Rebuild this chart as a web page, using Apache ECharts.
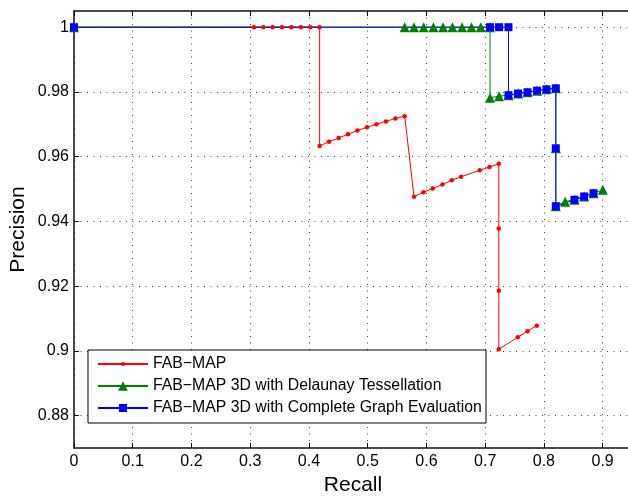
<!DOCTYPE html>
<html>
<head>
<meta charset="utf-8">
<script src="https://cdn.jsdelivr.net/npm/echarts@6/dist/echarts.min.js"></script>
<style>
html,body{margin:0;padding:0;background:#fff;}
#chart{width:628px;height:496px;}
</style>
</head>
<body>
<div id="chart"></div>
<script>
// ---- data ----
var seriesNames = ['FAB\u2212MAP', 'FAB\u2212MAP 3D with Delaunay Tessellation', 'FAB\u2212MAP 3D with Complete Graph Evaluation'];

var redRecall = [0, 0.3063, 0.3223, 0.3382, 0.354, 0.37, 0.3864, 0.4024, 0.4182,
  0.4182, 0.4341, 0.4506, 0.4664, 0.4825, 0.4988, 0.5148, 0.5312, 0.5472, 0.563,
  0.5789, 0.5949, 0.6107, 0.6273, 0.6431, 0.659, 0.6908, 0.7073, 0.7232,
  0.7232, 0.7232, 0.7232, 0.7555, 0.7721, 0.7879];
var redPrecision = [1, 1, 1, 1, 1, 1, 1, 1, 1,
  0.9633, 0.9646, 0.9658, 0.9669, 0.9681, 0.9691, 0.97, 0.9709, 0.9718, 0.9725,
  0.9476, 0.949, 0.9502, 0.9514, 0.9527, 0.9538, 0.9558, 0.9568, 0.9578,
  0.9378, 0.9186, 0.9005, 0.9042, 0.9061, 0.9078];

var greenRecall = [0, 0.563, 0.5789, 0.5954, 0.6119, 0.6283, 0.6443, 0.6607, 0.6767, 0.6925,
  0.7083, 0.7083, 0.7237, 0.7397, 0.756, 0.7721, 0.7884, 0.8044, 0.8203,
  0.8203, 0.8203, 0.8361, 0.8521, 0.8685, 0.8845, 0.9003];
var greenPrecision = [1, 1, 1, 1, 1, 1, 1, 1, 1, 1,
  1, 0.9782, 0.9787, 0.979, 0.9795, 0.9799, 0.9804, 0.9808, 0.9811,
  0.9626, 0.9447, 0.9461, 0.9467, 0.9477, 0.9487, 0.9498];

var blueRecall = [0, 0.7083, 0.7237, 0.7397, 0.7397, 0.756, 0.7721, 0.7884, 0.8044, 0.8203,
  0.8203, 0.8203, 0.8521, 0.8685, 0.8845];
var bluePrecision = [1, 1, 1, 1, 0.979, 0.9795, 0.9799, 0.9804, 0.9808, 0.9811,
  0.9626, 0.9447, 0.9467, 0.9477, 0.9487];

var xTicks = [0, 0.1, 0.2, 0.3, 0.4, 0.5, 0.6, 0.7, 0.8, 0.9];
var yTicks = [0.88, 0.9, 0.92, 0.94, 0.96, 0.98, 1];

// ---- chart ----
function zip(a, b) { return a.map(function (v, i) { return [v, b[i]]; }); }
var FONT = 'Liberation Sans';
var chart = echarts.init(document.getElementById('chart'), null, {renderer: 'canvas'});

var tickStyle = {show: true, inside: true, length: 5, lineStyle: {color: '#000', width: 1}};
var axisLineStyle = {show: true, onZero: false, lineStyle: {color: '#111', width: 1.5}};
var gridLine = {show: true, lineStyle: {color: '#444', width: 1, type: [1, 5.5]}};

function xAxisCfg(pos, showLab) {
  return {
    type: 'value', position: pos, min: 0, max: 0.95,
    axisLine: axisLineStyle,
    axisTick: Object.assign({customValues: xTicks}, tickStyle),
    axisLabel: {show: showLab, customValues: xTicks, color: '#000', fontFamily: FONT, fontSize: 16, margin: 6},
    splitLine: showLab ? gridLine : {show: false},
    name: showLab ? 'Recall' : '', nameLocation: 'middle', nameGap: 25,
    nameTextStyle: {color: '#000', fontFamily: FONT, fontSize: 21}
  };
}
function yAxisCfg(pos, showLab) {
  return {
    type: 'value', position: pos, min: 0.87, max: 1.005,
    axisLine: showLab ? axisLineStyle : {show: false},
    axisTick: showLab ? Object.assign({customValues: yTicks}, tickStyle) : {show: false},
    axisLabel: {show: showLab, customValues: yTicks, color: '#000', fontFamily: FONT, fontSize: 16, margin: 5},
    splitLine: showLab ? gridLine : {show: false},
    name: showLab ? 'Precision' : '', nameLocation: 'middle', nameGap: 45, nameMoveOverlap: false,
    nameTextStyle: {color: '#000', fontFamily: FONT, fontSize: 21}
  };
}

function legendCfg(name, top, ih) {
  return {
    data: [name], left: 97, top: top, orient: 'vertical', padding: 0,
    itemWidth: 50, itemHeight: ih, itemGap: 0, z: 10,
    textStyle: {color: '#000', fontFamily: FONT, fontSize: 15.8},
    selectedMode: false
  };
}

chart.setOption({
  animation: false,
  backgroundColor: '#fff',
  grid: {left: 74, top: 11, right: -4, bottom: 48, outerBoundsMode: 'none', containLabel: false},
  xAxis: [xAxisCfg('bottom', true), xAxisCfg('top', false)],
  yAxis: [yAxisCfg('left', true), yAxisCfg('right', false)],
  graphic: [{
    type: 'rect', z: 5, shape: {x: 88, y: 350, width: 398, height: 73},
    style: {fill: '#fff', stroke: '#000', lineWidth: 1}
  }],
  legend: [
    legendCfg(seriesNames[0], 356, 5),
    legendCfg(seriesNames[1], 378, 12),
    legendCfg(seriesNames[2], 400, 10)
  ],
  series: [
    {name: seriesNames[0], type: 'line', data: zip(redRecall, redPrecision),
     symbol: 'circle', symbolSize: 4.5, showAllSymbol: true, clip: false,
     lineStyle: {color: '#ff0000', width: 1}, itemStyle: {color: '#ff0000'}},
    {name: seriesNames[1], type: 'line', data: zip(greenRecall, greenPrecision),
     symbol: 'triangle', symbolSize: 10, showAllSymbol: true, clip: false,
     lineStyle: {color: '#008000', width: 1}, itemStyle: {color: '#008000'}},
    {name: seriesNames[2], type: 'line', data: zip(blueRecall, bluePrecision),
     symbol: 'rect', symbolSize: 8, showAllSymbol: true, clip: false,
     lineStyle: {color: '#0000ff', width: 1}, itemStyle: {color: '#0000ff'}}
  ]
});
</script>
</body>
</html>
